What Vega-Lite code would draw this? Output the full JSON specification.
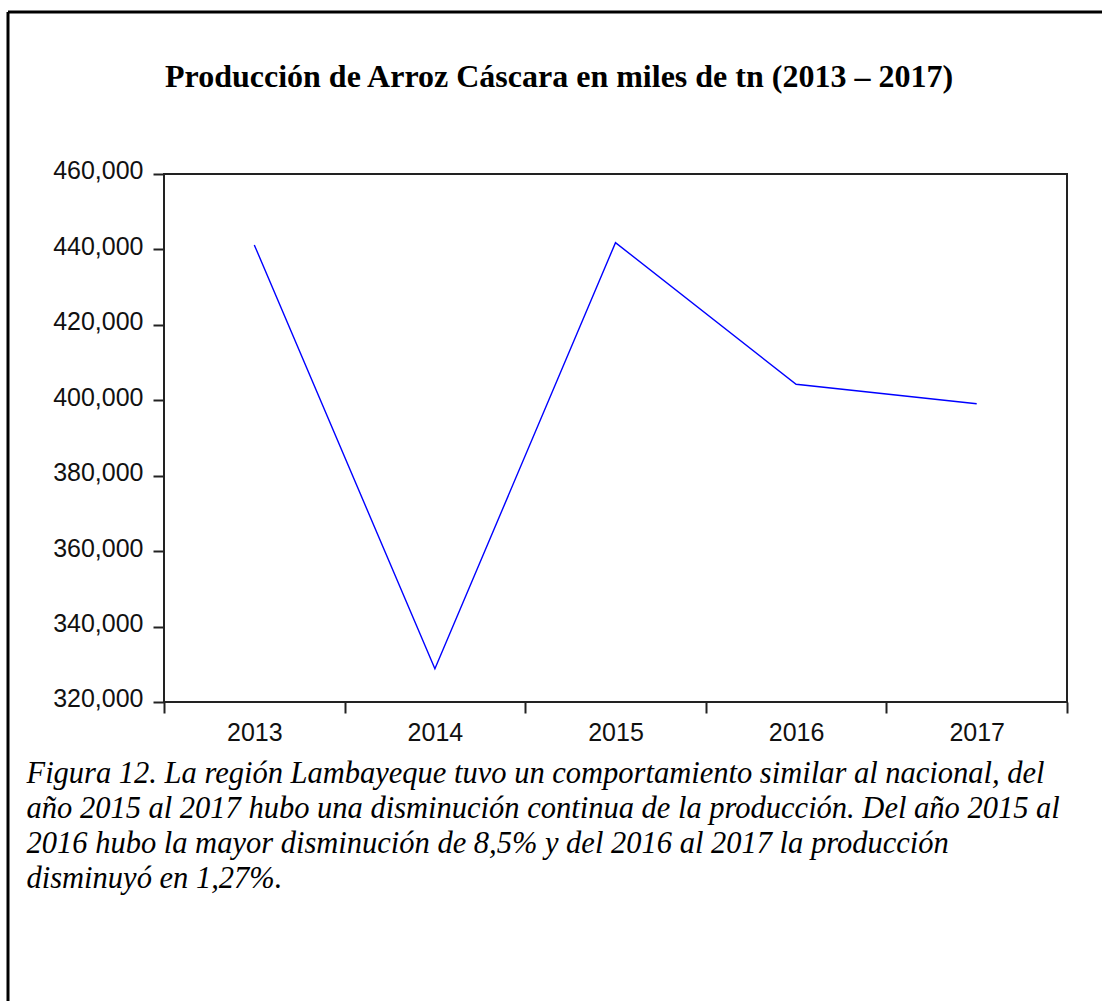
{
  "$schema": "https://vega.github.io/schema/vega-lite/v6.json",
  "width": 1094,
  "height": 989,
  "autosize": {"type": "none"},
  "padding": {"left": 8, "top": 12, "right": 0, "bottom": 0},
  "background": "white",
  "config": {"view": {"stroke": null}, "font": "Liberation Sans"},
  "title": {
    "text": "Producción de Arroz Cáscara en miles de tn (2013 – 2017)",
    "anchor": "start",
    "frame": "group",
    "dx": 157,
    "offset": -108,
    "baseline": "alphabetic",
    "font": "Liberation Serif",
    "fontSize": 32,
    "fontWeight": "bold",
    "color": "black"
  },
  "data": {
    "values": [
      {"year": 2013, "value": 441200},
      {"year": 2014, "value": 328800},
      {"year": 2015, "value": 441800},
      {"year": 2016, "value": 404250},
      {"year": 2017, "value": 399100}
    ]
  },
  "layer": [
    {
      "mark": {"type": "line", "color": "#0000ff", "strokeWidth": 1.4},
      "encoding": {
        "x": {
          "field": "year",
          "type": "quantitative",
          "scale": {"domain": [2011.63621, 2017.693796], "nice": false, "zero": false},
          "axis": {
            "orient": "bottom",
            "offset": -299,
            "values": [2012.5, 2013.5, 2014.5, 2015.5, 2016.5, 2017.5],
            "tickSize": 11,
            "tickWidth": 2,
            "tickColor": "#222222",
            "domain": false,
            "grid": false,
            "labelExpr": "datum.value > 2017 ? '' : format(datum.value + 0.5, 'd')",
            "labelOffset": 90.3,
            "labelFlush": false,
            "labelOverlap": false,
            "labelBound": false,
            "labelPadding": 7,
            "labelFont": "Liberation Sans",
            "labelFontSize": 25,
            "labelColor": "#111111",
            "title": [
              "Figura 12. La región Lambayeque tuvo un comportamiento similar al nacional, del",
              "año 2015 al 2017 hubo una disminución continua de la producción. Del año 2015 al",
              "2016 hubo la mayor disminución de 8,5% y del 2016 al 2017 la producción",
              "disminuyó en 1,27%."
            ],
            "titleX": 18,
            "titleY": 80,
            "titleAlign": "left",
            "titleAnchor": "start",
            "titleBaseline": "alphabetic",
            "titleAngle": 0,
            "titleFont": "Liberation Serif",
            "titleFontSize": 30.5,
            "titleFontStyle": "italic",
            "titleFontWeight": "normal",
            "titleLineHeight": 35,
            "titleColor": "black"
          }
        },
        "y": {
          "field": "value",
          "type": "quantitative",
          "scale": {"domain": [240719.7, 502954.5], "nice": false, "zero": false},
          "axis": {
            "orient": "left",
            "offset": -156,
            "values": [320000, 340000, 360000, 380000, 400000, 420000, 440000, 460000],
            "format": ",d",
            "tickSize": 11,
            "tickWidth": 2,
            "tickColor": "#222222",
            "domain": false,
            "grid": false,
            "labelPadding": 10,
            "labelOffset": -3,
            "labelFlush": false,
            "labelOverlap": false,
            "labelFont": "Liberation Sans",
            "labelFontSize": 25,
            "labelColor": "#111111",
            "title": null
          }
        }
      }
    },
    {
      "data": {"values": [{}]},
      "mark": {"type": "rect", "fill": "transparent", "stroke": "#222222", "strokeWidth": 2},
      "encoding": {
        "x": {"datum": 2012.5, "type": "quantitative"},
        "x2": {"datum": 2017.5},
        "y": {"datum": 320000, "type": "quantitative"},
        "y2": {"datum": 460000}
      }
    },
    {
      "data": {"values": [{}]},
      "mark": {"type": "rule", "color": "black", "strokeWidth": 3},
      "encoding": {"y": {"datum": 502954.5, "type": "quantitative"}}
    },
    {
      "data": {"values": [{}]},
      "mark": {"type": "rule", "color": "black", "strokeWidth": 3},
      "encoding": {"x": {"datum": 2011.63621, "type": "quantitative"}}
    }
  ]
}
